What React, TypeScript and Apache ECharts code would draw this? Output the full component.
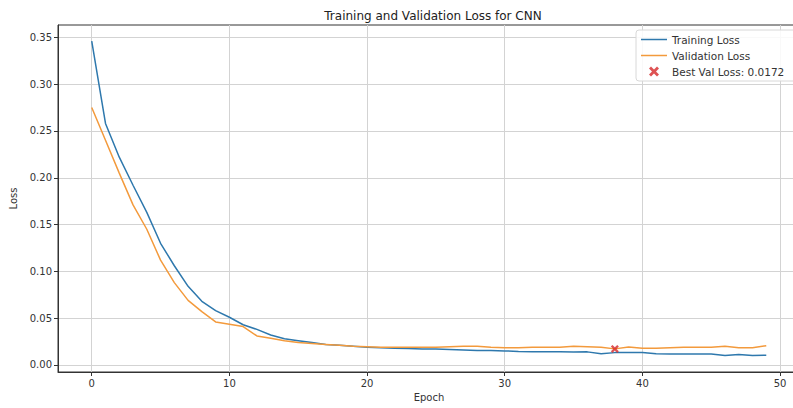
import React, { useEffect, useRef } from "react";
import * as echarts from "echarts";

const epochs: number[] = Array.from({ length: 50 }, (_, i) => i);

const trainingLoss: number[] = [
  0.346, 0.258, 0.222, 0.192, 0.163, 0.130, 0.106, 0.084, 0.068, 0.058,
  0.051, 0.043, 0.038, 0.032, 0.028, 0.026, 0.024, 0.022, 0.021, 0.020,
  0.019, 0.0185, 0.018, 0.0175, 0.017, 0.017, 0.0165, 0.016, 0.0155, 0.0155,
  0.015, 0.0145, 0.0142, 0.014, 0.014, 0.0138, 0.014, 0.012, 0.0132, 0.0132,
  0.0133, 0.012, 0.0118, 0.0117, 0.0117, 0.0117, 0.0102, 0.0112, 0.0100, 0.0104,
];

const validationLoss: number[] = [
  0.275, 0.240, 0.205, 0.171, 0.145, 0.112, 0.088, 0.069, 0.057, 0.046,
  0.0435, 0.041, 0.031, 0.0285, 0.026, 0.024, 0.023, 0.022, 0.021, 0.020,
  0.0195, 0.019, 0.019, 0.019, 0.019, 0.019, 0.0195, 0.020, 0.020, 0.019,
  0.0185, 0.0185, 0.019, 0.019, 0.019, 0.020, 0.0195, 0.019, 0.0172, 0.0192,
  0.0178, 0.018, 0.0185, 0.019, 0.019, 0.019, 0.020, 0.0185, 0.0185, 0.0206,
];

const bestEpoch = 38;
const bestValLoss = 0.0172;

const xTicks: number[] = [0, 10, 20, 30, 40, 50];
const yTicks: number[] = [0, 0.05, 0.1, 0.15, 0.2, 0.25, 0.3, 0.35];

const FONT = "DejaVu Sans";
const X_SHAPE =
  "path://M2,0 L5,3 L8,0 L10,2 L7,5 L10,8 L8,10 L5,7 L2,10 L0,8 L3,5 L0,2 Z";
const LINE_ICON =
  "path://M0,0 L0.01,0 L0,0 Z M0,4.25 L26,4.25 L26,5.75 L0,5.75 Z M0,10 L0.01,10 L0,10 Z";

export default function App() {
  const ref = useRef<HTMLDivElement>(null);

  useEffect(() => {
    if (!ref.current) return;
    const chart = echarts.init(ref.current, undefined, { renderer: "svg" });
    chart.setOption({
      animation: false,
      backgroundColor: "#ffffff",
      textStyle: { fontFamily: FONT },
      title: {
        text: "Training and Validation Loss for CNN",
        left: 428,
        textAlign: "center",
        top: 5,
        textStyle: { fontFamily: FONT, fontSize: 12, fontWeight: "normal", color: "#222" },
      },
      legend: {
        orient: "vertical",
        left: 636,
        top: 30,
        itemGap: 5,
        itemWidth: 26,
        itemHeight: 10,
        padding: [4, 12, 4, 5],
        backgroundColor: "rgba(255,255,255,0.85)",
        borderColor: "#d8d8d8",
        borderWidth: 1,
        borderRadius: 3,
        textStyle: { fontFamily: FONT, fontSize: 10.5, color: "#333" },
        data: [
          { name: "Training Loss", icon: LINE_ICON },
          { name: "Validation Loss", icon: LINE_ICON },
          { name: "Best Val Loss: 0.0172" },
        ],
      },
      grid: {
        left: 58,
        top: 25,
        right: 10,
        bottom: 36,
        show: true,
        borderColor: "#333",
        borderWidth: 1,
        backgroundColor: "transparent",
      },
      xAxis: {
        type: "value",
        min: -2.45,
        max: 51.45,
        name: "Epoch",
        nameLocation: "middle",
        nameGap: 20,
        nameTextStyle: { fontFamily: FONT, fontSize: 10, color: "#333" },
        axisLine: { show: true, onZero: false, lineStyle: { color: "#333", width: 1 } },
        axisTick: { show: true, length: 4, customValues: xTicks, lineStyle: { color: "#333" } },
        axisLabel: {
          customValues: xTicks,
          fontFamily: FONT,
          fontSize: 10,
          color: "#333",
          margin: 6,
          formatter: (v: number) => String(Math.round(v)),
        },
        splitLine: { show: true, lineStyle: { color: "#d3d3d3", width: 1 } },
      },
      yAxis: {
        type: "value",
        min: -0.0075,
        max: 0.3632,
        name: "Loss",
        nameLocation: "middle",
        nameGap: 40,
        nameTextStyle: { fontFamily: FONT, fontSize: 10, color: "#333" },
        axisLine: { show: true, onZero: false, lineStyle: { color: "#333", width: 1 } },
        axisTick: { show: true, length: 4, customValues: yTicks, lineStyle: { color: "#333" } },
        axisLabel: {
          customValues: yTicks,
          fontFamily: FONT,
          fontSize: 10,
          color: "#333",
          margin: 6,
          formatter: (v: number) => v.toFixed(2),
        },
        splitLine: { show: true, lineStyle: { color: "#d3d3d3", width: 1 } },
      },
      series: [
        {
          name: "Training Loss",
          type: "line",
          data: epochs.map((e, i) => [e, trainingLoss[i]]),
          symbol: "none",
          lineStyle: { color: "#2e78ad", width: 1.5 },
          itemStyle: { color: "#2e78ad" },
          z: 3,
        },
        {
          name: "Validation Loss",
          type: "line",
          data: epochs.map((e, i) => [e, validationLoss[i]]),
          symbol: "none",
          lineStyle: { color: "#f39a3c", width: 1.5 },
          itemStyle: { color: "#f39a3c" },
          z: 4,
        },
        {
          name: "Best Val Loss: 0.0172",
          type: "scatter",
          data: [[bestEpoch, bestValLoss]],
          symbol: X_SHAPE,
          symbolSize: 8,
          itemStyle: { color: "#d62728" },
          z: 5,
        },
      ],
    });
    return () => chart.dispose();
  }, []);

  return (
    <div
      style={{
        position: "fixed",
        left: 0,
        top: 0,
        width: 793,
        height: 408,
        overflow: "hidden",
        background: "#fff",
      }}
    >
      <div ref={ref} style={{ width: 810, height: 408 }} />
    </div>
  );
}
